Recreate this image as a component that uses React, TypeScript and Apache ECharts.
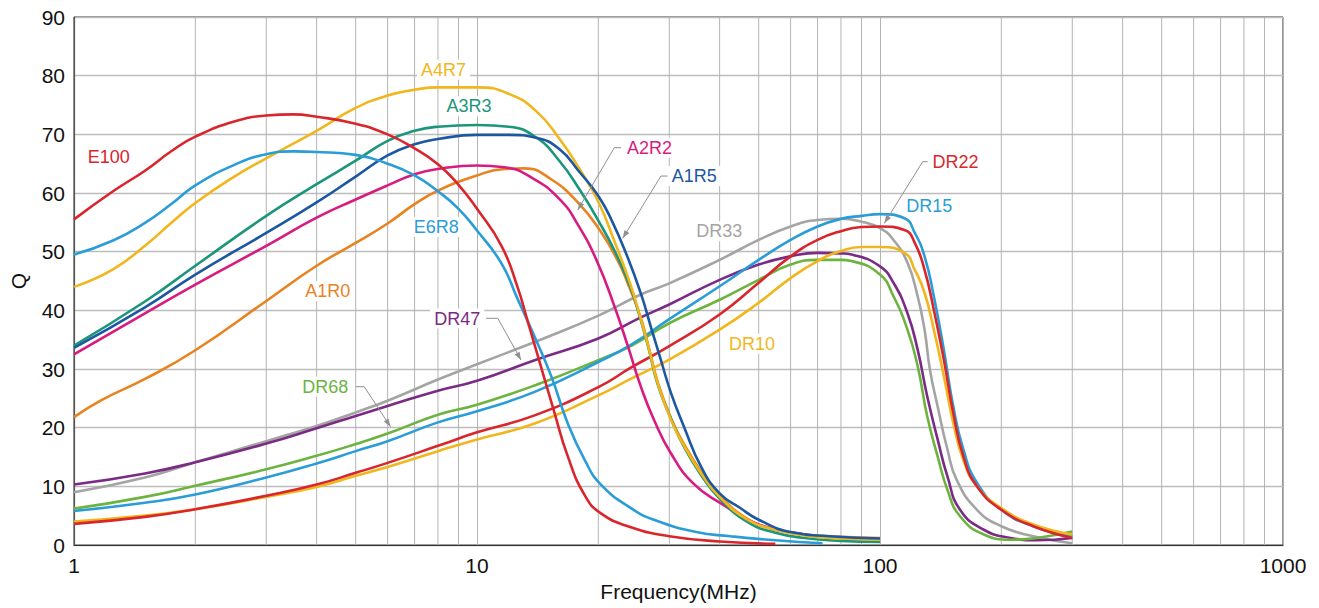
import React, { useEffect, useRef } from "react";
import * as echarts from "echarts";

const FONT = "'Liberation Sans', Arial, Helvetica, sans-serif";

// ---------- data (frequency in MHz, Q) ----------
const E100_F = [1, 1.25, 1.5, 1.75, 2, 2.5, 3, 3.5, 4, 5, 6, 7, 8, 9, 10, 11.5, 12.6, 13.3, 14.4, 15.5, 16.8, 18.5, 20.3, 24.2, 30, 40, 55];
const E100_Q = [55.5, 60.3, 63.8, 67.2, 69.6, 72.2, 73.2, 73.4, 73.0, 71.8, 70.0, 67.6, 64.9, 61.4, 57.3, 51.0, 44.0, 38.6, 30.5, 23.0, 15.1, 8.5, 5.4, 3.0, 1.5, 0.6, 0.2];

const E6R8_F = [1, 1.25, 1.5, 1.75, 2, 2.5, 3, 3.5, 4, 5, 6, 7, 8, 9, 10, 11.5, 12.6, 13.9, 15.3, 16.8, 18.5, 20.3, 24.2, 27.5, 35, 42.5, 55, 72];
const E6R8_Q = [49.5, 51.9, 54.9, 58.2, 61.3, 64.8, 66.6, 67.1, 67.0, 66.5, 65.0, 63.0, 60.3, 57.3, 53.6, 48.0, 42.0, 35.5, 28.7, 20.7, 14.5, 10.3, 6.2, 4.3, 2.2, 1.5, 0.8, 0.3];

const A4R7_F = [1, 1.25, 1.5, 1.75, 2, 2.5, 3, 4, 5, 6, 7, 8, 10, 12, 14, 16, 18, 20, 22, 24, 25.5, 26.7, 28.1, 30.3, 32.7, 36, 40, 47, 55, 65, 80, 100];
const A4R7_Q = [44.0, 47.0, 51.0, 55.0, 58.3, 62.8, 65.9, 70.6, 74.5, 76.6, 77.6, 78.0, 78.0, 76.9, 74.0, 69.3, 64.0, 58.5, 51.5, 44.5, 38.5, 33.5, 27.5, 21.3, 16.8, 12.2, 8.2, 4.3, 2.6, 1.6, 1.1, 0.9];

const A3R3_F = [1, 1.5, 2, 3, 4, 5, 6, 7, 8, 10, 12, 14, 16, 18, 20, 22, 24, 25.5, 26.7, 28.1, 30.3, 32.7, 36, 40, 47, 55, 65, 80, 100];
const A3R3_Q = [34.0, 41.5, 47.6, 56.1, 61.5, 65.5, 68.9, 70.6, 71.3, 71.6, 71.3, 69.5, 65.5, 60.5, 55.3, 50.0, 44.0, 38.3, 33.3, 27.3, 21.5, 16.6, 11.9, 7.9, 3.9, 2.1, 1.2, 0.7, 0.5];

const A1R5_F = [1, 1.5, 2, 3, 4, 5, 6, 7, 8, 10, 12, 14, 16, 18, 20, 21.6, 23.5, 25.5, 27, 28.6, 30.3, 32.7, 36, 40, 45, 50, 60, 75, 100];
const A1R5_Q = [33.6, 40.5, 46.1, 53.2, 58.4, 62.8, 66.4, 68.3, 69.2, 69.9, 69.9, 69.4, 67.5, 63.5, 59.5, 55.3, 49.5, 42.9, 37.2, 31.5, 25.9, 20.0, 13.3, 8.8, 6.3, 4.3, 2.2, 1.5, 1.1];

const A2R2_F = [1, 1.5, 2, 3, 4, 5, 6, 7, 8, 10, 11.7, 13.6, 16, 17.9, 19.9, 21.9, 23.7, 25.5, 27.5, 30.3, 34.4, 40.3, 50, 65, 80, 100];
const A2R2_Q = [32.5, 39.5, 44.4, 51.0, 55.8, 58.9, 61.3, 63.2, 64.1, 64.7, 64.4, 62.7, 59.0, 54.3, 48.2, 40.8, 33.8, 27.0, 21.3, 15.6, 10.5, 7.1, 3.5, 1.8, 1.2, 1.0];

const A1R0_F = [1, 1.17, 1.5, 2, 3, 4, 5, 6, 7, 8, 10, 11.7, 13.1, 15.3, 17.9, 20.2, 22.3, 23.7, 25.5, 26.7, 28.1, 30.3, 32.7, 36, 40, 47, 55, 65, 80, 100];
const A1R0_Q = [21.8, 24.7, 28.3, 33.2, 41.6, 47.6, 51.5, 54.8, 58.1, 60.4, 63.0, 64.1, 64.2, 62.3, 58.2, 53.6, 48.6, 44.5, 38.7, 33.6, 27.7, 21.6, 17.1, 12.5, 8.5, 4.4, 2.7, 1.8, 1.4, 1.2];

const DR33_F = [1, 1.5, 2, 3, 4, 5, 6, 8, 10, 15, 20, 25.5, 30, 40, 50, 60, 70, 80, 90, 100, 108, 117, 124, 129, 133, 139, 147, 155, 174, 200, 240, 300];
const DR33_Q = [9.0, 11.5, 14.1, 17.7, 20.3, 22.6, 24.6, 28.2, 30.8, 35.5, 39.1, 42.7, 44.6, 48.6, 52.0, 54.3, 55.4, 55.6, 55.1, 54.0, 52.0, 48.1, 42.4, 36.7, 29.9, 23.6, 16.3, 11.1, 6.0, 3.2, 1.5, 0.3];

const DR47_F = [1, 1.5, 2, 3, 4, 5, 6, 8, 10, 13.9, 20, 25.5, 30, 40, 50, 60, 70, 80, 85, 100, 108, 117, 124, 131, 139, 147, 158, 181, 211, 245, 300];
const DR47_Q = [10.3, 12.2, 14.1, 17.3, 19.9, 22.0, 23.7, 26.3, 28.0, 31.5, 35.2, 38.8, 41.0, 45.2, 47.8, 49.2, 49.8, 49.7, 49.5, 47.5, 44.7, 39.5, 33.3, 25.3, 18.0, 11.7, 6.0, 2.6, 1.2, 0.8, 1.2];

const DR68_F = [1, 1.5, 2, 3, 4, 5, 6, 8, 10, 13.9, 20, 24.2, 30, 40, 50, 60, 70, 80, 85, 100, 108, 117, 124, 131, 139, 147, 158, 181, 211, 245, 300];
const DR68_Q = [6.2, 8.2, 10.1, 12.9, 15.2, 17.2, 19.0, 22.2, 23.9, 27.2, 31.5, 34.0, 37.8, 41.8, 45.2, 47.8, 48.6, 48.6, 48.4, 46.1, 42.4, 36.7, 30.5, 21.9, 15.1, 9.4, 4.9, 1.8, 0.9, 1.2, 2.3];

const DR_F = [1, 1.5, 2, 3, 4, 5, 6, 8, 10, 13.9, 20, 24.2, 30, 40, 50, 60, 70, 80, 90, 100, 115, 122, 129, 136, 144, 152, 161, 174, 200, 240, 300];
const DR15_Q = [5.8, 7.2, 8.6, 11.5, 13.9, 16.0, 17.7, 20.9, 22.8, 26.1, 31.2, 34.2, 38.5, 44.1, 48.6, 52.0, 54.3, 55.6, 56.1, 56.4, 55.7, 53.2, 49.2, 42.4, 33.3, 23.6, 16.3, 10.6, 6.0, 3.2, 1.5];
const DR22_Q = [3.6, 4.8, 6.1, 8.4, 10.3, 12.3, 14.0, 16.9, 19.2, 22.1, 26.9, 30.3, 33.9, 39.3, 44.7, 49.2, 52.0, 53.5, 54.2, 54.3, 53.7, 51.5, 46.9, 40.1, 31.6, 22.5, 15.1, 10.0, 6.0, 3.2, 1.2];
const DR10_Q = [4.0, 5.0, 6.1, 8.2, 9.9, 11.8, 13.3, 16.0, 18.0, 20.7, 25.5, 28.4, 31.6, 36.7, 41.3, 45.5, 48.4, 50.1, 50.8, 50.8, 49.8, 46.9, 43.0, 36.7, 28.8, 20.8, 14.5, 10.0, 6.3, 3.5, 1.8];

// minor vertical grid lines of the log axis
const MINOR_GRID_F = [2, 3, 4, 5, 6, 7, 8, 9, 20, 30, 40, 50, 60, 70, 80, 90, 200, 300, 400, 500, 600, 700, 800, 900];

// series labels (text, anchor in data coords)
const LABEL_TEXT = ["E100", "A4R7", "A3R3", "A2R2", "A1R5", "DR22", "DR15", "DR33", "E6R8", "A1R0", "DR47", "DR68", "DR10"];
const LABEL_F = [1.22, 8.26, 9.55, 26.8, 34.6, 154.0, 132.5, 39.9, 7.92, 4.26, 8.93, 4.2, 48.1];
const LABEL_Q = [66.1, 81.0, 74.8, 67.7, 62.9, 65.3, 57.8, 53.5, 54.2, 43.3, 38.6, 27.0, 34.3];

// leader lines (data coords)
const LEADERS: number[][][] = [
  [[22.77, 67.72], [21.91, 67.72], [17.78, 57.1]],
  [[29.74, 62.89], [28.61, 62.89], [22.99, 52.28]],
  [[131.3, 65.33], [127.6, 65.33], [102.5, 54.83]],
  [[10.53, 38.64], [11.26, 38.64], [12.86, 31.53]],
  [[5.01, 26.98], [5.25, 26.98], [6.1, 20.16]],
];

const C = {
  red: "#d9252c",
  lblue: "#2a9dd8",
  yellow: "#f2b61d",
  teal: "#1b967a",
  dblue: "#1c58a2",
  magenta: "#d81b80",
  orange: "#e8831f",
  gray: "#a4a4a4",
  purple: "#7b2a86",
  green: "#6cb43f",
};

const LABEL_COLOR = [C.red, C.yellow, C.teal, C.magenta, C.dblue, C.red, C.lblue, C.gray, C.lblue, C.orange, C.purple, C.green, C.yellow];

const SERIES_DEF: { name: string; color: string; f: number[]; q: number[] }[] = [
  { name: "DR33", color: C.gray, f: DR33_F, q: DR33_Q },
  { name: "DR47", color: C.purple, f: DR47_F, q: DR47_Q },
  { name: "DR68", color: C.green, f: DR68_F, q: DR68_Q },
  { name: "DR15", color: C.lblue, f: DR_F, q: DR15_Q },
  { name: "DR10", color: C.yellow, f: DR_F, q: DR10_Q },
  { name: "DR22", color: C.red, f: DR_F, q: DR22_Q },
  { name: "A1R0", color: C.orange, f: A1R0_F, q: A1R0_Q },
  { name: "A2R2", color: C.magenta, f: A2R2_F, q: A2R2_Q },
  { name: "A3R3", color: C.teal, f: A3R3_F, q: A3R3_Q },
  { name: "A4R7", color: C.yellow, f: A4R7_F, q: A4R7_Q },
  { name: "A1R5", color: C.dblue, f: A1R5_F, q: A1R5_Q },
  { name: "E6R8", color: C.lblue, f: E6R8_F, q: E6R8_Q },
  { name: "E100", color: C.red, f: E100_F, q: E100_Q },
];

export default function App() {
  const ref = useRef<HTMLDivElement>(null);

  useEffect(() => {
    if (!ref.current) return;
    const chart = echarts.init(ref.current, null, { renderer: "svg" });

    const gridColor = "#b4b4b4";

    const lineSeries = SERIES_DEF.map((s) => ({
      name: s.name,
      type: "line",
      data: s.f.map((f, i) => [f, s.q[i]]),
      showSymbol: false,
      smooth: 0.5,
      clip: true,
      z: 3,
      lineStyle: { color: s.color, width: 2.6 },
      itemStyle: { color: s.color },
      silent: true,
    }));

    const minorSeries = {
      type: "custom",
      silent: true,
      z: 1,
      data: MINOR_GRID_F.map((f) => [f, 0]),
      encode: { x: 0, y: 1 },
      renderItem: (params: any, api: any) => {
        const f = api.value(0);
        const p0 = api.coord([f, 0]);
        const p1 = api.coord([f, 90]);
        return {
          type: "line",
          shape: { x1: p0[0], y1: p0[1], x2: p1[0], y2: p1[1] },
          style: { stroke: gridColor, lineWidth: 1 },
        };
      },
    };

    chart.setOption({
      animation: false,
      backgroundColor: "#ffffff",
      grid: {
        left: 73,
        right: 36,
        top: 17,
        bottom: 63,
        show: true,
        borderColor: "#2b2b2b",
        borderWidth: 1,
        containLabel: false,
      },
      xAxis: {
        type: "log",
        logBase: 10,
        min: 1,
        max: 1000,
        name: "Frequency(MHz)",
        nameLocation: "middle",
        nameGap: 34,
        nameTextStyle: { fontSize: 21, color: "#111", fontFamily: FONT },
        axisLine: { show: true, lineStyle: { color: "#333", width: 1.2 } },
        axisTick: { show: false },
        axisLabel: {
          fontSize: 21,
          color: "#111",
          fontFamily: FONT,
          margin: 10,
          formatter: (v: number) => String(Math.round(v)),
        },
        splitLine: { show: true, lineStyle: { color: gridColor, width: 1 } },
      },
      yAxis: {
        type: "value",
        min: 0,
        max: 90,
        interval: 10,
        name: "Q",
        nameLocation: "middle",
        nameGap: 45,
        nameTextStyle: { fontSize: 21, color: "#111", fontFamily: FONT },
        axisLine: { show: true, lineStyle: { color: "#555", width: 1.2 } },
        axisTick: { show: false },
        axisLabel: { fontSize: 21, color: "#111", fontFamily: FONT, margin: 9 },
        splitLine: { show: true, lineStyle: { color: "#bdbdbd", width: 1.3 } },
      },
      series: [minorSeries, ...lineSeries],
    });

    const toPx = (f: number, q: number): number[] =>
      chart.convertToPixel({ gridIndex: 0 } as any, [f, q]) as number[];

    const graphics: any[] = [];
    LEADERS.forEach((pts) => {
      const px = pts.map((p) => toPx(p[0], p[1]));
      graphics.push({
        type: "polyline",
        z: 50,
        silent: true,
        shape: { points: px },
        style: { stroke: "#8f8f8f", lineWidth: 1, fill: null },
      });
      const tip = px[px.length - 1];
      const prev = px[px.length - 2];
      const dx = tip[0] - prev[0];
      const dy = tip[1] - prev[1];
      const len = Math.sqrt(dx * dx + dy * dy) || 1;
      const ux = dx / len;
      const uy = dy / len;
      const L = 8;
      const W = 2.8;
      graphics.push({
        type: "polygon",
        z: 51,
        silent: true,
        shape: {
          points: [
            [tip[0], tip[1]],
            [tip[0] - ux * L - uy * W, tip[1] - uy * L + ux * W],
            [tip[0] - ux * L + uy * W, tip[1] - uy * L - ux * W],
          ],
        },
        style: { fill: "#8f8f8f" },
      });
    });

    LABEL_TEXT.forEach((t, i) => {
      const p = toPx(LABEL_F[i], LABEL_Q[i]);
      graphics.push({
        type: "text",
        z: 60,
        silent: true,
        x: p[0],
        y: p[1],
        style: {
          text: t,
          fill: LABEL_COLOR[i],
          fontSize: 18,
          fontFamily: FONT,
          align: "center",
          verticalAlign: "middle",
          backgroundColor: "#ffffff",
          padding: [1, 4, 1, 4],
        },
      });
    });

    chart.setOption({ graphic: graphics });

    return () => {
      chart.dispose();
    };
  }, []);

  return (
    <div
      ref={ref}
      style={{ position: "fixed", left: 0, top: 0, width: 1319, height: 608, background: "#fff" }}
    />
  );
}
